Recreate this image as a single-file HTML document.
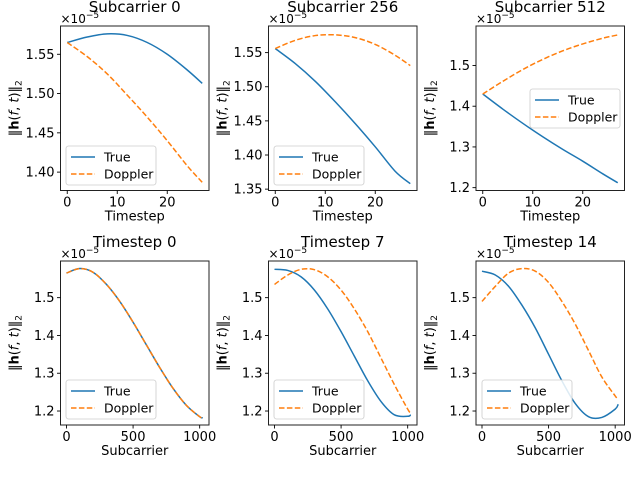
<!DOCTYPE html>
<html><head><meta charset="utf-8"><style>
body{margin:0;background:#fff}
svg{display:block;font-family:"DejaVu Sans","Liberation Sans",sans-serif}
</style></head><body>
<svg id="fig" width="640" height="487" viewBox="0 0 640 487"></svg>
<script>
// ---- data ----
const tsX = [0,4,8,12,16,20,24,27];
const scX = [0,100,200,300,400,500,600,700,800,900,1000,1023];
const p1True = [1.565,1.572,1.576,1.574,1.565,1.55,1.53,1.513];
const p1Dop  = [1.565,1.547,1.525,1.498,1.47,1.44,1.408,1.387];
const p2True = [1.556,1.534,1.508,1.478,1.446,1.412,1.376,1.358];
const p2Dop  = [1.556,1.568,1.575,1.576,1.572,1.562,1.546,1.531];
const p3True = [1.43,1.393,1.358,1.325,1.294,1.265,1.234,1.212];
const p3Dop  = [1.43,1.461,1.49,1.515,1.536,1.553,1.567,1.575];
const t0True = [1.565,1.577,1.567,1.535,1.49,1.435,1.375,1.315,1.26,1.215,1.185,1.182];
const t0Dop  = [1.565,1.577,1.567,1.535,1.49,1.435,1.375,1.315,1.26,1.215,1.185,1.182];
const t7True = [1.575,1.572,1.555,1.52,1.47,1.41,1.345,1.28,1.225,1.19,1.186,1.19];
const t7Dop  = [1.535,1.56,1.575,1.574,1.555,1.52,1.47,1.41,1.34,1.27,1.205,1.195];
const t14True= [1.57,1.56,1.53,1.48,1.42,1.35,1.28,1.22,1.185,1.183,1.205,1.218];
const t14Dop = [1.49,1.53,1.565,1.577,1.57,1.54,1.49,1.43,1.36,1.29,1.24,1.23];
const topXTicks = [0,10,20];
const botXTicks = [0,500,1000];
const ticks1 = [1.40,1.45,1.50,1.55];
const ticks2 = [1.35,1.40,1.45,1.50,1.55];
const ticks3 = [1.2,1.3,1.4,1.5];
const ticksB = [1.2,1.3,1.4,1.5];

const NS="http://www.w3.org/2000/svg";
const svg=document.getElementById('fig');
function mk(tag,attrs,parent){const e=document.createElementNS(NS,tag);for(const k in attrs)e.setAttribute(k,attrs[k]);(parent||svg).appendChild(e);return e;}

function smooth(pts){
  let d='M'+pts[0][0].toFixed(2)+','+pts[0][1].toFixed(2);
  for(let i=0;i<pts.length-1;i++){
    const p0=pts[Math.max(0,i-1)],p1=pts[i],p2=pts[i+1],p3=pts[Math.min(pts.length-1,i+2)];
    const c1=[p1[0]+(p2[0]-p0[0])/6,p1[1]+(p2[1]-p0[1])/6];
    const c2=[p2[0]-(p3[0]-p1[0])/6,p2[1]-(p3[1]-p1[1])/6];
    d+=' C'+c1.map(v=>v.toFixed(2))+' '+c2.map(v=>v.toFixed(2))+' '+p2.map(v=>v.toFixed(2));
  }
  return d;
}

function panel(cfg){
  const g=mk('g',{});
  
  
  const {L,R,T,B,x0,x1,y0,y1}=cfg;
  const sx=v=>L+(v-x0)/(x1-x0)*(R-L);
  const sy=v=>B-(v-y0)/(y1-y0)*(B-T);
  const t=mk('text',{x:(L+R)/2,y:T-14,'text-anchor':'middle','font-size':15},g);
  t.textContent=cfg.title;
  
  
  const ex=mk('text',{x:L,y:T-3,'font-size':12},g);
  ex.innerHTML='×10<tspan dy="-5" font-size="9">−5</tspan>';
  
  
  const lt=mk('path',{d:smooth(cfg.xs.map((x,i)=>[sx(x),sy(cfg.yt[i])])),fill:'none',stroke:'#1f77b4','stroke-width':1.5},g);
  
  
  const ld=mk('path',{d:smooth(cfg.xs.map((x,i)=>[sx(x),sy(cfg.yd[i])])),fill:'none',stroke:'#ff7f0e','stroke-width':1.5,'stroke-dasharray':'5.5,2.4'},g);
  
  
  mk('rect',{x:L,y:T,width:R-L,height:B-T,fill:'none',stroke:'#222','stroke-width':1},g);
  cfg.xt.forEach(v=>{const x=sx(v);mk('line',{x1:x,x2:x,y1:B,y2:B+3.5,stroke:'#000','stroke-width':0.9},g);
    const tx=mk('text',{x:x,y:B+16,'text-anchor':'middle','font-size':13},g);tx.textContent=v;
    
    });
  cfg.yticks.forEach(v=>{const y=sy(v);mk('line',{x1:L-3.5,x2:L,y1:y,y2:y,stroke:'#000','stroke-width':0.9},g);
    const ty=mk('text',{x:L-6,y:y+4.5,'text-anchor':'end','font-size':13},g);ty.textContent=v.toFixed(cfg.dec);
    
    });
  const xl=mk('text',{x:(L+R)/2,y:B+30,'text-anchor':'middle','font-size':13},g);xl.textContent=cfg.xlabel;
  
  
  const yl=mk('text',{transform:`translate(${L-42},${(T+B)/2}) rotate(-90)`,'text-anchor':'middle','font-size':13},g);
  yl.innerHTML='‖<tspan font-weight="bold">h</tspan>(<tspan font-style="italic">f</tspan>, <tspan font-style="italic">t</tspan>)‖<tspan dy="3" font-size="9">2</tspan>';
  
  
  const [lx,ly]=cfg.leg;
  const lg=mk('g',{},g);
  
  
  mk('rect',{x:lx,y:ly,width:90,height:39,rx:2.5,fill:'#fff','fill-opacity':0.85,stroke:'#ccc','stroke-width':0.8},lg);
  mk('line',{x1:lx+5,x2:lx+29,y1:ly+11,y2:ly+11,stroke:'#1f77b4','stroke-width':1.5},lg);
  mk('line',{x1:lx+5,x2:lx+29,y1:ly+28,y2:ly+28,stroke:'#ff7f0e','stroke-width':1.5,'stroke-dasharray':'5.5,2.4'},lg);
  const a=mk('text',{x:lx+38,y:ly+15.5,'font-size':12.5},lg);a.textContent='True';
  
  
  const b=mk('text',{x:lx+38,y:ly+32.5,'font-size':12.5},lg);b.textContent='Doppler';
  
  
}
const topRow={T:26,B:190.5,x0:-1.35,x1:28.35,xs:tsX,xt:topXTicks,xlabel:'Timestep'};
const botRow={T:261,B:425,x0:-45,x1:1070,xs:scX,xt:botXTicks,xlabel:'Subcarrier',y0:1.163,y1:1.597,yticks:ticksB,dec:1};
panel(Object.assign({},topRow,{name:'panel-subcarrier-0',title:'Subcarrier 0',L:60.5,R:209,y0:1.3766,y1:1.586,yt:p1True,yd:p1Dop,yticks:ticks1,dec:2,leg:[66,146]}));
panel(Object.assign({},topRow,{name:'panel-subcarrier-256',title:'Subcarrier 256',L:268.5,R:417,y0:1.348,y1:1.589,yt:p2True,yd:p2Dop,yticks:ticks2,dec:2,leg:[274,146]}));
panel(Object.assign({},topRow,{name:'panel-subcarrier-512',title:'Subcarrier 512',L:476,R:624.5,y0:1.193,y1:1.597,yt:p3True,yd:p3Dop,yticks:ticks3,dec:1,leg:[530,89]}));
panel(Object.assign({},botRow,{name:'panel-timestep-0',title:'Timestep 0',L:60.5,R:209,yt:t0True,yd:t0Dop,leg:[66,380]}));
panel(Object.assign({},botRow,{name:'panel-timestep-7',title:'Timestep 7',L:268.5,R:417,yt:t7True,yd:t7Dop,leg:[274,380]}));
panel(Object.assign({},botRow,{name:'panel-timestep-14',title:'Timestep 14',L:476,R:624.5,yt:t14True,yd:t14Dop,leg:[482,380]}));
</script>
</body></html>
